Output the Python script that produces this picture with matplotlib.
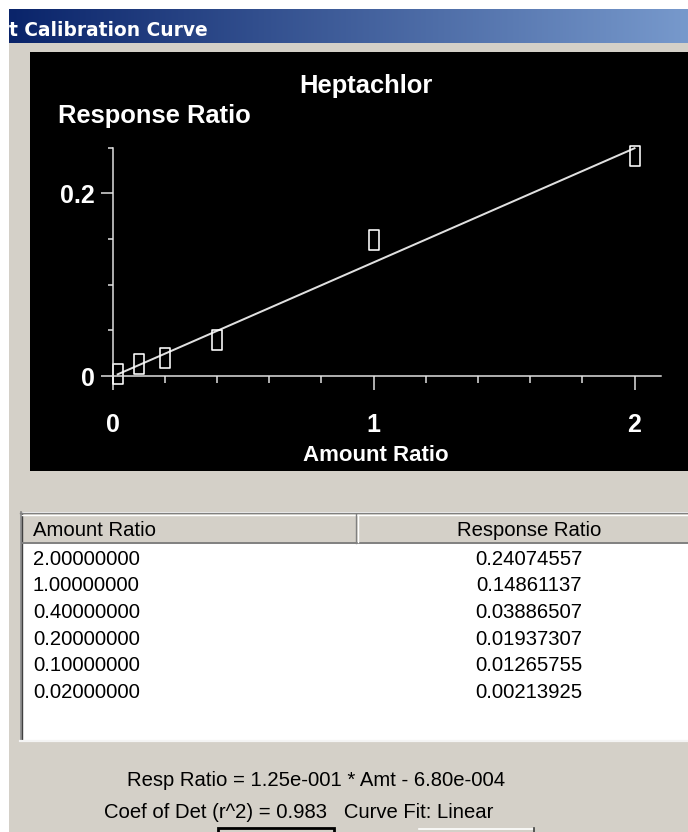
import numpy as np
import matplotlib
matplotlib.use("Agg")
import matplotlib.pyplot as plt
from matplotlib import font_manager
from matplotlib.colors import LinearSegmentedColormap
from matplotlib.patches import Rectangle
from matplotlib.path import Path

compound = "Heptachlor"
amount_ratio = [2.0, 1.0, 0.4, 0.2, 0.1, 0.02]
response_ratio = [0.24074557, 0.14861137, 0.03886507, 0.01937307, 0.01265755, 0.00213925]
fit_slope = 1.25e-001
fit_intercept = -6.80e-004
r_squared = 0.983
x_major = [0, 1, 2]
x_major_labels = ["0", "1", "2"]
x_minor = [0.2, 0.4, 0.6, 0.8, 1.2, 1.4, 1.6, 1.8]
y_major = [0, 0.2]
y_major_labels = ["0", "0.2"]
y_minor = [0.05, 0.1, 0.15, 0.25]

W, H, DPI = 688, 832, 100
GRAY = "#D4D0C8"
AXIS_COL = "#E4E4E4"
PT = 72.0 / DPI  # points per pixel


def have_font(name):
    try:
        font_manager.findfont(font_manager.FontProperties(family=name),
                              fallback_to_default=False)
        return True
    except ValueError:
        return False


SANS = "Liberation Sans"
# the chart axis text is a condensed bold face; use Narrow if it is there
if have_font("Liberation Sans Narrow"):
    NARROW, AXIS_LABEL_SIZE, TICK_SIZE = "Liberation Sans Narrow", 19, 20
else:
    NARROW, AXIS_LABEL_SIZE, TICK_SIZE = SANS, 16, 18

fig = plt.figure(figsize=(W / DPI, H / DPI), dpi=DPI, facecolor="white")

# background "dialog" drawn in pixel coordinates
bg = fig.add_axes([0, 0, 1, 1], zorder=0)
bg.set_xlim(0, W)
bg.set_ylim(H, 0)
bg.axis("off")

bg.add_patch(Rectangle((9, 9), W, H, facecolor=GRAY, edgecolor="none"))
grad = np.linspace(0, 1, 256)[None, :]
cmap = LinearSegmentedColormap.from_list("title", ["#0A246A", "#7799CC"])
bg.imshow(grad, cmap=cmap, extent=[9, W, 43, 9], aspect="auto", zorder=1)
bg.text(9, 36, "t Calibration Curve", color="white", fontsize=13.4,
        fontweight="bold", family="DejaVu Sans", va="baseline", zorder=2)

# black chart panel
bg.add_patch(Rectangle((30, 52), W - 30, 471 - 52, facecolor="black",
                       edgecolor="none", zorder=1))
bg.text(299, 93, compound, color="white", fontsize=18.4, fontweight="bold",
        family=SANS, va="baseline", zorder=2)
bg.text(58, 123, "Response Ratio", color="white", fontsize=18.4,
        fontweight="bold", family=SANS, va="baseline", zorder=2)
bg.text(376, 461, "Amount Ratio", color="white", fontsize=AXIS_LABEL_SIZE,
        fontweight="bold", family=NARROW, ha="center", va="baseline", zorder=2)

# table (list view)
bg.add_patch(Rectangle((20, 512), W - 20, 741 - 512, facecolor="white",
                       edgecolor="none", zorder=1))
bg.plot([20.5, 20.5], [512, 741], color="#808080", lw=1.2, zorder=3)
bg.plot([21.5, 21.5], [513, 740], color="#404040", lw=1.0, zorder=3)
bg.plot([20, W], [512.5, 512.5], color="#808080", lw=1.0, zorder=3)
bg.plot([20, W], [740.5, 740.5], color="#F4F4F4", lw=1.6, zorder=3)
bg.add_patch(Rectangle((22, 514), W - 22, 543 - 514, facecolor=GRAY,
                       edgecolor="none", zorder=2))
bg.plot([22, W], [514.5, 514.5], color="white", lw=1.0, zorder=3)
bg.plot([22, W], [543, 543], color="#808080", lw=1.4, zorder=3)
bg.plot([356, 356], [514, 543], color="#808080", lw=1.0, zorder=3)
bg.plot([357.5, 357.5], [515, 542], color="white", lw=1.0, zorder=3)
bg.text(33, 531, "Amount Ratio", fontsize=14.6, family=SANS, va="center", zorder=4)
bg.text(529, 531, "Response Ratio", fontsize=14.6, family=SANS, ha="center",
        va="center", zorder=4)
for i, (a, r) in enumerate(zip(amount_ratio, response_ratio)):
    y = 559.3 + 26.6 * i
    bg.text(33, y, f"{a:.8f}", fontsize=14.6, family=SANS, va="center", zorder=4)
    bg.text(529, y, f"{r:.8f}", fontsize=14.6, family=SANS, ha="center",
            va="center", zorder=4)

# fit summary
mant_s, exp_s = f"{fit_slope:.2e}".split("e")
mant_i, exp_i = f"{abs(fit_intercept):.2e}".split("e")
sign = "-" if fit_intercept < 0 else "+"
eq = (f"Resp Ratio = {mant_s}e{int(exp_s):04d} * Amt {sign} "
      f"{mant_i}e{int(exp_i):04d}")
bg.text(127, 781, eq, fontsize=14.6, family=SANS, va="center", zorder=4)
bg.text(104, 813, f"Coef of Det (r^2) = {r_squared:.3f}   Curve Fit: Linear",
        fontsize=14.6, family=SANS, va="center", zorder=4)

# partial buttons at the bottom edge
bg.add_patch(Rectangle((218, 828), 116, 20, facecolor=GRAY, edgecolor="black",
                       lw=2.0, zorder=2))
bg.add_patch(Rectangle((419, 828), 115, 20, facecolor=GRAY, edgecolor="none",
                       zorder=2))
bg.plot([419, 533], [828.5, 828.5], color="white", lw=1.2, zorder=3)
bg.plot([533.5, 533.5], [828, H], color="#404040", lw=1.2, zorder=3)

# --- the calibration plot itself ---
X0, XS = 112.5, 261.0      # pixel of x=0, pixels per unit
Y0, YS = 376.0, 913.5      # pixel (from top) of y=0, pixels per unit
XLIM = (-0.2, 2.2)
YLIM = (-0.12, 0.30)
left = X0 + XS * XLIM[0]
right = X0 + XS * XLIM[1]
bottom = Y0 - YS * YLIM[0]
top = Y0 - YS * YLIM[1]
ax = fig.add_axes([left / W, (H - bottom) / H, (right - left) / W,
                   (bottom - top) / H], zorder=2)
ax.set_facecolor("none")
ax.set_xlim(*XLIM)
ax.set_ylim(*YLIM)

for side in ("top", "right"):
    ax.spines[side].set_visible(False)
ax.spines["left"].set_position(("data", 0))
ax.spines["bottom"].set_position(("data", 0))
ax.spines["left"].set_bounds(0, 0.25)
ax.spines["bottom"].set_bounds(0, 2.1)
for side in ("left", "bottom"):
    ax.spines[side].set_color(AXIS_COL)
    ax.spines[side].set_linewidth(1.5 * PT)

ax.set_xticks(x_major, labels=x_major_labels)
ax.set_xticks(x_minor, minor=True)
ax.set_yticks(y_major, labels=y_major_labels)
ax.set_yticks(y_minor, minor=True)
ax.tick_params(axis="x", which="major", length=14 * PT, width=1.5 * PT,
               color=AXIS_COL, pad=23 * PT, labelcolor="white",
               labelsize=TICK_SIZE)
ax.tick_params(axis="x", which="minor", length=6.5 * PT, width=1.5 * PT,
               color=AXIS_COL)
ax.tick_params(axis="y", which="major", length=12.5 * PT, width=1.5 * PT,
               color=AXIS_COL, pad=5 * PT, labelcolor="white",
               labelsize=TICK_SIZE)
ax.tick_params(axis="y", which="minor", length=5 * PT, width=1.5 * PT,
               color=AXIS_COL)
for lab in ax.get_xticklabels() + ax.get_yticklabels():
    lab.set_family(NARROW)
    lab.set_fontweight("bold")

xs = np.array([min(amount_ratio), max(amount_ratio)])
ax.plot(xs, fit_slope * xs + fit_intercept, color="#E0E0E0", lw=2 * PT)

box = Path([(-0.24, -0.5), (0.24, -0.5), (0.24, 0.5), (-0.24, 0.5),
            (-0.24, -0.5)], closed=True)
ax.plot(amount_ratio, response_ratio, ls="none", marker=box, ms=20 * PT,
        mfc="none", mec="white", mew=1.6 * PT)

fig.savefig("out.png", dpi=DPI, facecolor="white")
